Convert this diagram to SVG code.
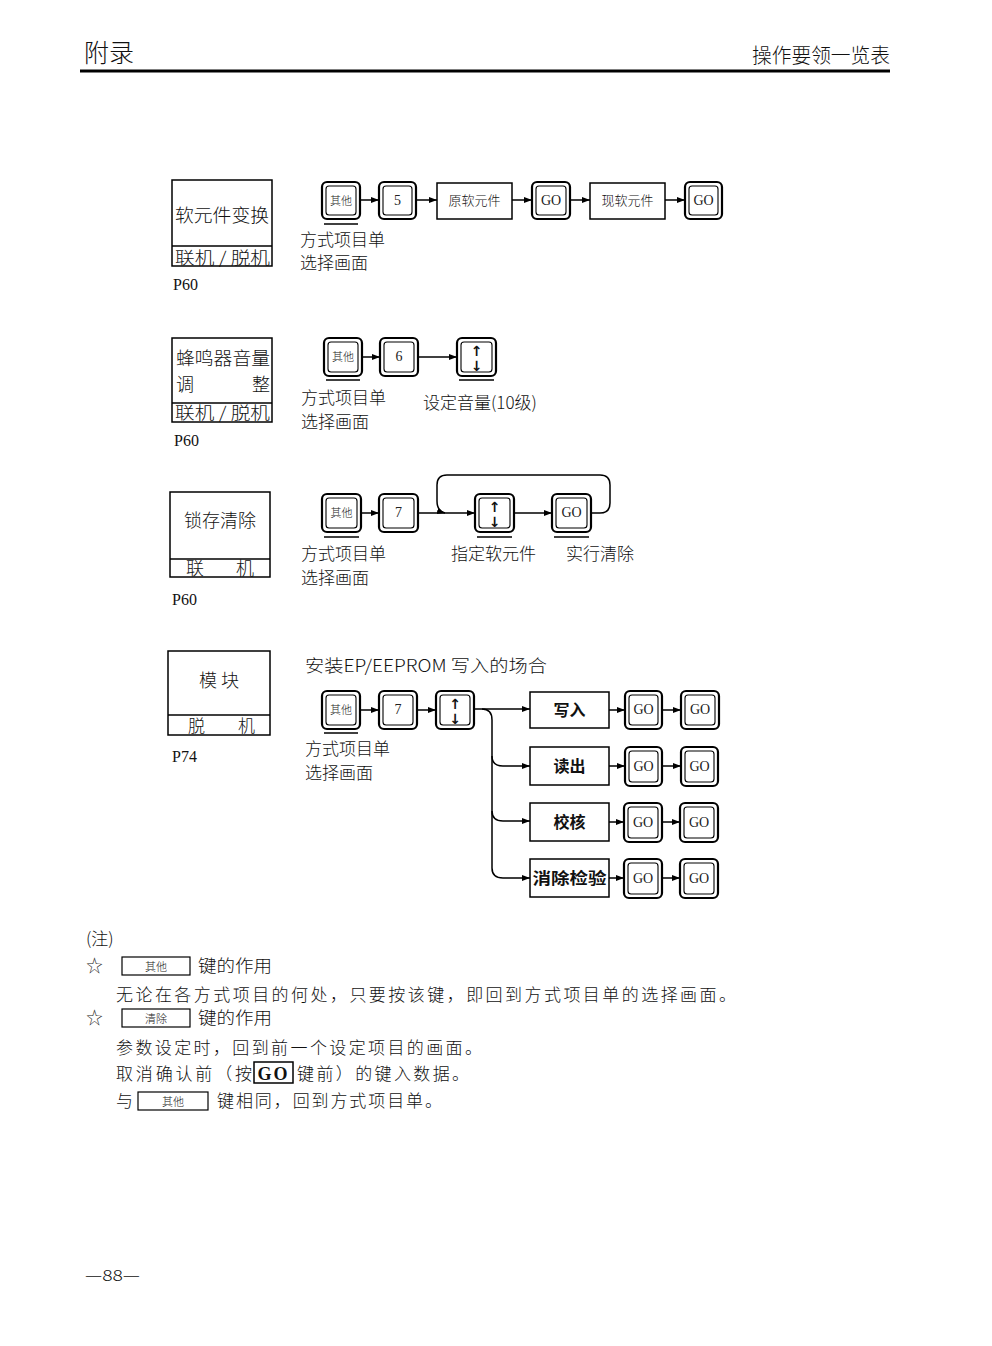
<svg xmlns="http://www.w3.org/2000/svg" width="992" height="1346" viewBox="0 0 992 1346">
<style>
.t{font-family:"Noto Sans CJK SC","Noto Sans CJK JP",sans-serif;font-weight:300;fill:#111}
.s{font-family:"Liberation Serif","Noto Sans CJK SC",serif;fill:#111}
.b{font-family:"Noto Sans CJK SC",sans-serif;font-weight:700;fill:#111}
.ko{fill:#fff;stroke:#000;stroke-width:2.2}
.ki{fill:none;stroke:#000;stroke-width:1.1}
.bx{fill:#fff;stroke:#000;stroke-width:1.5}
.ln{fill:none;stroke:#000;stroke-width:1.5}
.ul{stroke:#000;stroke-width:1.6}
.kt{font-family:"Noto Sans CJK SC",sans-serif;font-weight:300;font-size:11px;fill:#222;text-anchor:middle}
.kn{font-family:"Liberation Serif",serif;font-size:14px;fill:#222;text-anchor:middle}
.ar{font-family:"DejaVu Sans",sans-serif;font-size:14px;fill:#111;text-anchor:middle;font-weight:bold}
</style>
<defs>
<marker id="a" viewBox="0 0 8 6" refX="8" refY="3" markerWidth="8" markerHeight="6" markerUnits="userSpaceOnUse" orient="auto"><path d="M0,0 L8,3 L0,6 z" fill="#000"/></marker>
</defs>

<g id="header">
<text class="t" x="84" y="62" font-size="25">附录</text>
<text class="t" x="752" y="63" font-size="20" textLength="138" lengthAdjust="spacingAndGlyphs">操作要领一览表</text>
<line x1="80" y1="71" x2="890" y2="71" stroke="#000" stroke-width="3"/>
</g>

<!-- Section 1 -->
<g id="mode1">
<rect class="bx" x="172" y="180" width="100" height="86"/>
<line class="ln" x1="172" y1="246" x2="272" y2="246"/>
<text class="t" x="175" y="222" font-size="18" textLength="94" lengthAdjust="spacingAndGlyphs">软元件变换</text>
<text class="t" x="175" y="264" font-size="17" textLength="95" lengthAdjust="spacingAndGlyphs">联机 / 脱机</text>
<text class="s" x="173" y="290" font-size="16">P60</text>
</g>
<g id="s1k1"><rect class="ko" x="322" y="182" width="38" height="37" rx="5"/><rect class="ki" x="326" y="186" width="30" height="29" rx="3"/><text class="kt" x="341" y="205">其他</text></g>
<g id="s1k2"><rect class="ko" x="379" y="182" width="37" height="37" rx="5"/><rect class="ki" x="383" y="186" width="29" height="29" rx="3"/><text class="kn" x="397.5" y="205">5</text></g>
<g id="s1b1"><rect class="bx" x="437" y="183" width="75" height="36"/><text class="t" x="474.5" y="205" font-size="13" text-anchor="middle">原软元件</text></g>
<g id="s1k3"><rect class="ko" x="532" y="182" width="38" height="37" rx="5"/><rect class="ki" x="536" y="186" width="30" height="29" rx="3"/><text class="kn" x="551" y="205">GO</text></g>
<g id="s1b2"><rect class="bx" x="590" y="183" width="75" height="36"/><text class="t" x="627.5" y="205" font-size="13" text-anchor="middle">现软元件</text></g>
<g id="s1k4"><rect class="ko" x="685" y="182" width="37" height="37" rx="5"/><rect class="ki" x="689" y="186" width="29" height="29" rx="3"/><text class="kn" x="703.5" y="205">GO</text></g>
<g id="s1lab">
<line class="ul" x1="324" y1="224" x2="358" y2="224"/>
<text class="t" x="300" y="246" font-size="17">方式项目单</text>
<text class="t" x="300" y="269" font-size="17">选择画面</text>
</g>

<!-- Section 2 -->
<g id="mode2">
<rect class="bx" x="172" y="338" width="100" height="84"/>
<line class="ln" x1="172" y1="403" x2="272" y2="403"/>
<text class="t" x="176" y="365" font-size="18" textLength="94" lengthAdjust="spacingAndGlyphs">蜂鸣器音量</text>
<text class="t" x="176" y="391" font-size="18">调</text>
<text class="t" x="270" y="391" font-size="18" text-anchor="end">整</text>
<text class="t" x="175" y="419" font-size="17" textLength="95" lengthAdjust="spacingAndGlyphs">联机 / 脱机</text>
<text class="s" x="174" y="446" font-size="16">P60</text>
</g>
<g id="s2k1"><rect class="ko" x="324" y="338" width="38" height="38" rx="5"/><rect class="ki" x="328" y="342" width="30" height="30" rx="3"/><text class="kt" x="343" y="361">其他</text></g>
<g id="s2k2"><rect class="ko" x="380" y="338" width="38" height="38" rx="5"/><rect class="ki" x="384" y="342" width="30" height="30" rx="3"/><text class="kn" x="399" y="361">6</text></g>
<g id="s2k3"><rect class="ko" x="457" y="338" width="39" height="38" rx="5"/><rect class="ki" x="461" y="342" width="31" height="30" rx="3"/><text class="ar" x="476.5" y="356">↑</text><text class="ar" x="476.5" y="371">↓</text></g>
<g id="s2lab">
<line class="ul" x1="326" y1="380" x2="360" y2="380"/>
<line class="ul" x1="459" y1="380" x2="494" y2="380"/>
<text class="t" x="301" y="404" font-size="17">方式项目单</text>
<text class="t" x="301" y="428" font-size="17">选择画面</text>
<text class="t" x="423" y="409" font-size="17">设定音量(10级)</text>
</g>

<!-- Section 3 -->
<g id="mode3">
<rect class="bx" x="170" y="492" width="100" height="85"/>
<line class="ln" x1="170" y1="559" x2="270" y2="559"/>
<text class="t" x="220" y="527" font-size="18" text-anchor="middle">锁存清除</text>
<text class="t" x="186" y="575" font-size="18">联</text>
<text class="t" x="236" y="575" font-size="18">机</text>
<text class="s" x="172" y="605" font-size="16">P60</text>
</g>
<g id="s3k1"><rect class="ko" x="322" y="494" width="39" height="38" rx="5"/><rect class="ki" x="326" y="498" width="31" height="30" rx="3"/><text class="kt" x="341.5" y="517">其他</text></g>
<g id="s3k2"><rect class="ko" x="379" y="494" width="39" height="38" rx="5"/><rect class="ki" x="383" y="498" width="31" height="30" rx="3"/><text class="kn" x="398.5" y="517">7</text></g>
<g id="s3k3"><rect class="ko" x="475" y="494" width="39" height="38" rx="5"/><rect class="ki" x="479" y="498" width="31" height="30" rx="3"/><text class="ar" x="494.5" y="512">↑</text><text class="ar" x="494.5" y="527">↓</text></g>
<g id="s3k4"><rect class="ko" x="552" y="494" width="39" height="38" rx="5"/><rect class="ki" x="556" y="498" width="31" height="30" rx="3"/><text class="kn" x="571.5" y="517">GO</text></g>
<g id="s3lab">
<line class="ul" x1="324" y1="537" x2="359" y2="537"/>
<line class="ul" x1="477" y1="537" x2="512" y2="537"/>
<line class="ul" x1="554" y1="537" x2="589" y2="537"/>
<text class="t" x="301" y="560" font-size="17">方式项目单</text>
<text class="t" x="301" y="584" font-size="17">选择画面</text>
<text class="t" x="451" y="560" font-size="17">指定软元件</text>
<text class="t" x="566" y="560" font-size="17">实行清除</text>
</g>

<!-- Section 4 -->
<g id="mode4">
<rect class="bx" x="168" y="651" width="102" height="84"/>
<line class="ln" x1="168" y1="715" x2="270" y2="715"/>
<text class="t" x="219" y="687" font-size="18" text-anchor="middle">模 块</text>
<text class="t" x="188" y="732" font-size="17">脱</text>
<text class="t" x="238" y="732" font-size="17">机</text>
<text class="s" x="172" y="762" font-size="16">P74</text>
</g>
<g id="s4title"><text class="t" x="305" y="672" font-size="17" textLength="242" lengthAdjust="spacingAndGlyphs">安装EP/EEPROM 写入的场合</text></g>
<g id="s4k1"><rect class="ko" x="322" y="691" width="38" height="38" rx="5"/><rect class="ki" x="326" y="695" width="30" height="30" rx="3"/><text class="kt" x="341" y="714">其他</text></g>
<g id="s4k2"><rect class="ko" x="379" y="691" width="38" height="38" rx="5"/><rect class="ki" x="383" y="695" width="30" height="30" rx="3"/><text class="kn" x="398" y="714">7</text></g>
<g id="s4k3"><rect class="ko" x="436" y="691" width="38" height="38" rx="5"/><rect class="ki" x="440" y="695" width="30" height="30" rx="3"/><text class="ar" x="455" y="709">↑</text><text class="ar" x="455" y="724">↓</text></g>
<g id="s4lab">
<line class="ul" x1="324" y1="733" x2="358" y2="733"/>
<text class="t" x="305" y="755" font-size="17">方式项目单</text>
<text class="t" x="305" y="779" font-size="17">选择画面</text>
</g>
<g id="b1"><rect class="bx" x="530" y="692" width="79" height="36"/><text class="b" x="569.5" y="716" font-size="16" text-anchor="middle">写入</text></g>
<g id="b2"><rect class="bx" x="530" y="747" width="79" height="38"/><text class="b" x="569.5" y="772" font-size="16" text-anchor="middle">读出</text></g>
<g id="b3"><rect class="bx" x="530" y="803" width="79" height="38"/><text class="b" x="569.5" y="828" font-size="16" text-anchor="middle">校核</text></g>
<g id="b4"><rect class="bx" x="530" y="859" width="79" height="38"/><text class="b" x="569.5" y="884" font-size="16" text-anchor="middle" textLength="74" lengthAdjust="spacingAndGlyphs">消除检验</text></g>
<g id="g1a"><rect class="ko" x="625" y="691" width="37" height="38" rx="5"/><rect class="ki" x="629" y="695" width="29" height="30" rx="3"/><text class="kn" x="643.5" y="714">GO</text></g>
<g id="g1b"><rect class="ko" x="681" y="691" width="38" height="38" rx="5"/><rect class="ki" x="685" y="695" width="30" height="30" rx="3"/><text class="kn" x="700" y="714">GO</text></g>
<g id="g2a"><rect class="ko" x="625" y="747" width="37" height="39" rx="5"/><rect class="ki" x="629" y="751" width="29" height="31" rx="3"/><text class="kn" x="643.5" y="771">GO</text></g>
<g id="g2b"><rect class="ko" x="681" y="747" width="37" height="39" rx="5"/><rect class="ki" x="685" y="751" width="29" height="31" rx="3"/><text class="kn" x="699.5" y="771">GO</text></g>
<g id="g3a"><rect class="ko" x="624" y="803" width="38" height="39" rx="5"/><rect class="ki" x="628" y="807" width="30" height="31" rx="3"/><text class="kn" x="643" y="827">GO</text></g>
<g id="g3b"><rect class="ko" x="680" y="803" width="38" height="39" rx="5"/><rect class="ki" x="684" y="807" width="30" height="31" rx="3"/><text class="kn" x="699" y="827">GO</text></g>
<g id="g4a"><rect class="ko" x="624" y="859" width="38" height="39" rx="5"/><rect class="ki" x="628" y="863" width="30" height="31" rx="3"/><text class="kn" x="643" y="883">GO</text></g>
<g id="g4b"><rect class="ko" x="680" y="859" width="38" height="39" rx="5"/><rect class="ki" x="684" y="863" width="30" height="31" rx="3"/><text class="kn" x="699" y="883">GO</text></g>

<g id="connectors">
<line class="ln" x1="360" y1="200" x2="379" y2="200" marker-end="url(#a)"/>
<line class="ln" x1="416" y1="200" x2="437" y2="200" marker-end="url(#a)"/>
<line class="ln" x1="512" y1="200" x2="532" y2="200" marker-end="url(#a)"/>
<line class="ln" x1="570" y1="200" x2="590" y2="200" marker-end="url(#a)"/>
<line class="ln" x1="665" y1="200" x2="685" y2="200" marker-end="url(#a)"/>

<line class="ln" x1="362" y1="357" x2="380" y2="357" marker-end="url(#a)"/>
<line class="ln" x1="418" y1="357" x2="457" y2="357" marker-end="url(#a)"/>

<line class="ln" x1="361" y1="513" x2="379" y2="513" marker-end="url(#a)"/>
<line class="ln" x1="418" y1="513" x2="475" y2="513" marker-end="url(#a)"/>
<line class="ln" x1="514" y1="513" x2="552" y2="513" marker-end="url(#a)"/>
<path class="ln" d="M591,513 H600 Q610,513 610,503 V485 Q610,475 600,475 H447 Q437,475 437,485 V501 Q437,511 445,513" marker-end="url(#a)"/>

<line class="ln" x1="360" y1="710" x2="379" y2="710" marker-end="url(#a)"/>
<line class="ln" x1="417" y1="710" x2="436" y2="710" marker-end="url(#a)"/>
<line class="ln" x1="474" y1="709" x2="530" y2="709" marker-end="url(#a)"/>
<path class="ln" d="M482,709 Q492,709 492,720 V756 Q492,766 503,766 H530" marker-end="url(#a)"/>
<path class="ln" d="M492,756 V811 Q492,821 503,821 H530" marker-end="url(#a)"/>
<path class="ln" d="M492,811 V868 Q492,878 503,878 H530" marker-end="url(#a)"/>
<line class="ln" x1="609" y1="710" x2="625" y2="710" marker-end="url(#a)"/>
<line class="ln" x1="662" y1="710" x2="681" y2="710" marker-end="url(#a)"/>
<line class="ln" x1="609" y1="766" x2="625" y2="766" marker-end="url(#a)"/>
<line class="ln" x1="662" y1="766" x2="681" y2="766" marker-end="url(#a)"/>
<line class="ln" x1="609" y1="822" x2="624" y2="822" marker-end="url(#a)"/>
<line class="ln" x1="662" y1="822" x2="680" y2="822" marker-end="url(#a)"/>
<line class="ln" x1="609" y1="878" x2="624" y2="878" marker-end="url(#a)"/>
<line class="ln" x1="662" y1="878" x2="680" y2="878" marker-end="url(#a)"/>
</g>

<g id="notes">
<text class="t" x="86" y="945" font-size="17">(注)</text>
<text class="t" x="86" y="972" font-size="17">☆</text>
<rect x="122" y="957" width="68" height="18" fill="#fff" stroke="#000" stroke-width="1.2"/>
<text class="kt" x="156" y="971" font-size="12">其他</text>
<text class="t" x="198" y="972" font-size="17" textLength="74" lengthAdjust="spacingAndGlyphs">键的作用</text>
<text class="t" x="116" y="1001" font-size="17" textLength="620" lengthAdjust="spacing">无论在各方式项目的何处，只要按该键，即回到方式项目单的选择画面。</text>
<text class="t" x="86" y="1024" font-size="17">☆</text>
<rect x="122" y="1009" width="68" height="18" fill="#fff" stroke="#000" stroke-width="1.2"/>
<text class="kt" x="156" y="1023" font-size="12">清除</text>
<text class="t" x="198" y="1024" font-size="17" textLength="74" lengthAdjust="spacingAndGlyphs">键的作用</text>
<text class="t" x="116" y="1054" font-size="17" textLength="366" lengthAdjust="spacing">参数设定时，回到前一个设定项目的画面。</text>
<text class="t" x="116" y="1080" font-size="17" textLength="136" lengthAdjust="spacing">取消确认前（按</text>
<rect x="254" y="1062" width="39" height="21" fill="#fff" stroke="#000" stroke-width="1.5"/>
<text class="s" x="273.5" y="1080" font-size="18" font-weight="bold" text-anchor="middle" letter-spacing="2">GO</text>
<text class="t" x="297" y="1080" font-size="17" textLength="172" lengthAdjust="spacing">键前）的键入数据。</text>
<text class="t" x="116" y="1107" font-size="17">与</text>
<rect x="138" y="1092" width="70" height="18" fill="#fff" stroke="#000" stroke-width="1.2"/>
<text class="kt" x="173" y="1106" font-size="12">其他</text>
<text class="t" x="217" y="1107" font-size="17" textLength="225" lengthAdjust="spacing">键相同，回到方式项目单。</text>
</g>

<g id="footer">
<text class="t" x="85" y="1281" font-size="15" textLength="55" lengthAdjust="spacingAndGlyphs">—88—</text>
</g>
</svg>
